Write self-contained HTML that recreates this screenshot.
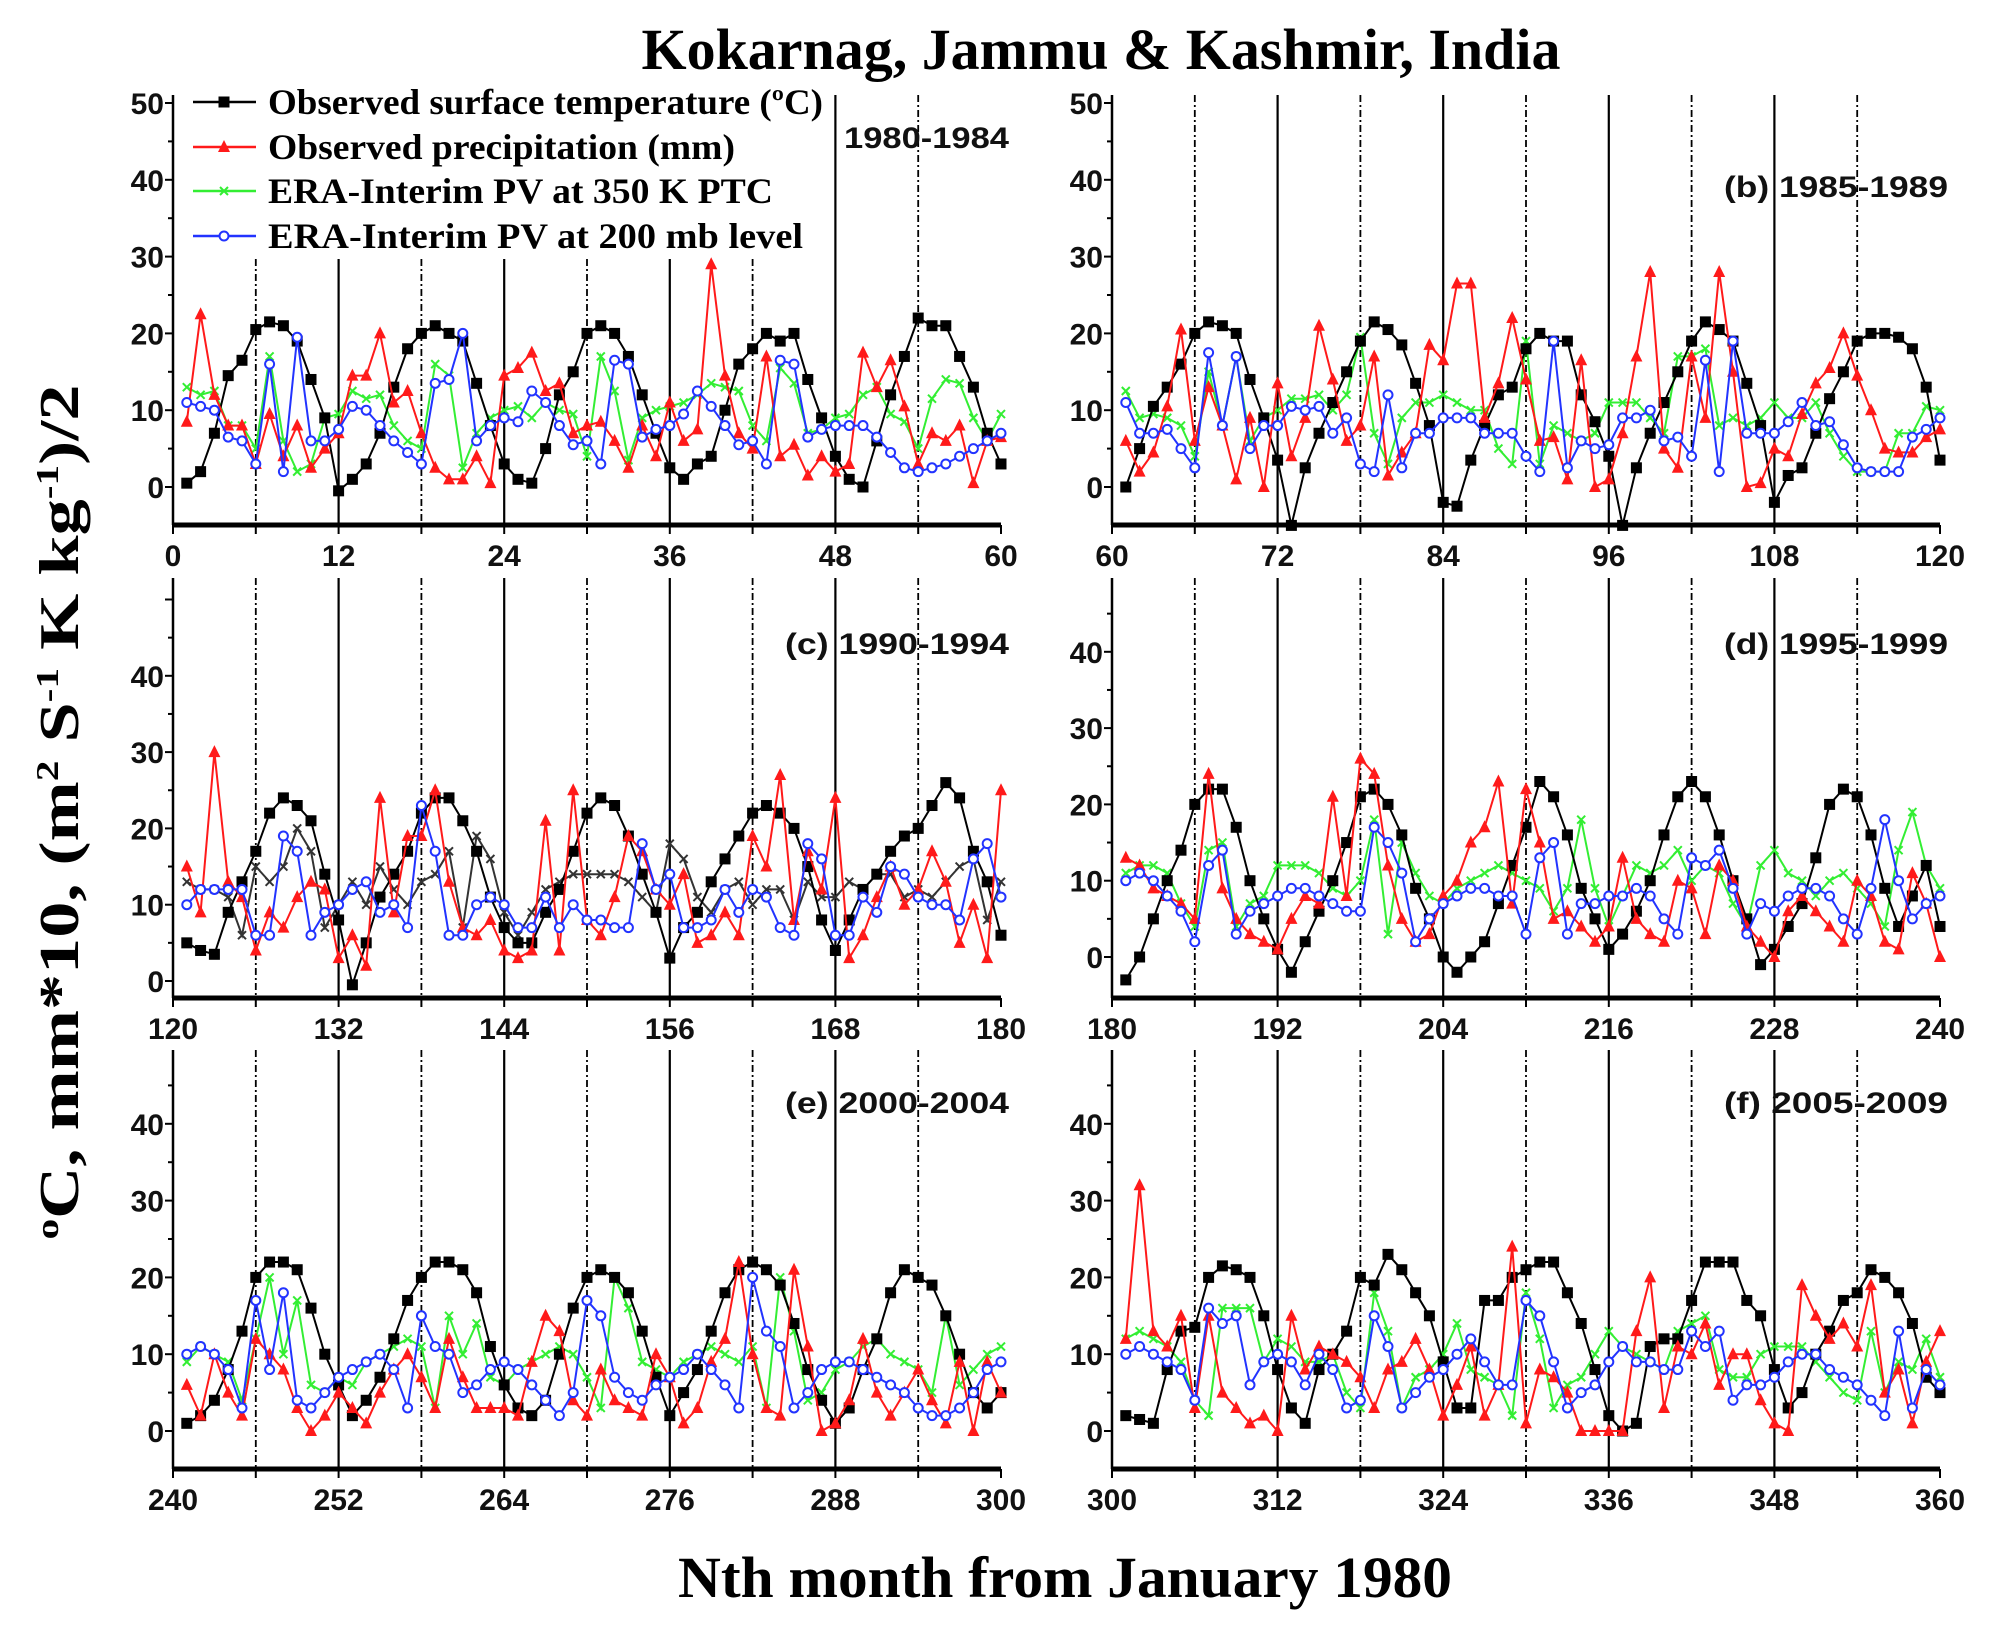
<!DOCTYPE html>
<html><head><meta charset="utf-8"><style>
html,body{margin:0;padding:0;background:#fff}
svg{display:block}
.tk{font-family:"Liberation Sans",sans-serif;font-weight:bold;font-size:30px;fill:#111}
.sf{font-family:"Liberation Serif",serif;font-weight:bold;fill:#000}
</style></head><body>
<svg id="chart" width="2003" height="1630" viewBox="0 0 2003 1630" xmlns="http://www.w3.org/2000/svg">
<text class="sf" x="1101" y="69" font-size="58" text-anchor="middle" textLength="919" lengthAdjust="spacingAndGlyphs">Kokarnag, Jammu &amp; Kashmir, India</text>
<text class="sf" x="1065" y="1597" font-size="58" text-anchor="middle" textLength="774" lengthAdjust="spacingAndGlyphs">Nth month from January 1980</text>
<text class="sf" transform="translate(78,812) rotate(-90)" font-size="56" text-anchor="middle" textLength="855" lengthAdjust="spacingAndGlyphs"><tspan font-size="32" dy="-20">o</tspan><tspan dy="20">C, mm*10, (m</tspan><tspan font-size="32" dy="-20">2</tspan><tspan dy="20"> S</tspan><tspan font-size="32" dy="-20">-1</tspan><tspan dy="20"> K kg</tspan><tspan font-size="32" dy="-20">-1</tspan><tspan dy="20">)/2</tspan></text>
<g id="panels"></g>
<g id="legend"></g>
</svg>
<script>
const panelLabels=["1980-1984","(b) 1985-1989","(c) 1990-1994","(d) 1995-1999","(e) 2000-2004","(f) 2005-2009"];
const panelStarts=[0,60,120,180,240,300];
const tempA=[0.5,2,7,14.5,16.5,20.5,21.5,21,19,14,9,-0.5,1,3,7,13,18,20,21,20,19,13.5,8,3,1,0.5,5,12,15,20,21,20,17,12,7,2.5,1,3,4,10,16,18,20,19,20,14,9,4,1,0,6,12,17,22,21,21,17,13,7,3];
const precA=[8.5,22.5,12,8,8,3,9.5,4,8,2.5,5,7,14.5,14.5,20,11,12.5,7,2.5,1,1,4,0.5,14.5,15.5,17.5,12.5,13.5,7,8,8.5,6,2.5,8,4,11,6,7.5,29,14.5,7,5,17,4,5.5,1.5,4,2,3,17.5,13,16.5,10.5,3,7,6,8,0.5,6,6.5];
const pv350A=[13,12,12.5,8,8,5,17,6,2,3,9,9.5,12.5,11.5,12,8,6,5,16,14.5,2.5,7,9,10,10.5,9,11,10,9.5,4,17,12.5,3.5,9,10,10.5,11,12,13.5,13,12.5,8,6,15.5,13.5,7,7.5,9,9.5,12,13,9.5,8.5,5,11.5,14,13.5,9,6,9.5];
const pv200A=[11,10.5,10,6.5,6,3,16,2,19.5,6,6,7.5,10.5,10,8,6,4.5,3,13.5,14,20,6,8,9,8.5,12.5,11,8,5.5,6,3,16.5,16,6.5,7.5,8,9.5,12.5,10.5,8,5.5,6,3,16.5,16,6.5,7.5,8,8,8,6.5,4.5,2.5,2,2.5,3,4,5,6,7];
const tempB=[0,5,10.5,13,16,20,21.5,21,20,14,9,3.5,-5,2.5,7,11,15,19,21.5,20.5,18.5,13.5,8,-2,-2.5,3.5,8,12,13,18,20,19,19,12,8.5,4,-5,2.5,7,11,15,19,21.5,20.5,19,13.5,8,-2,1.5,2.5,7,11.5,15,19,20,20,19.5,18,13,3.5];
const precB=[6,2,4.5,10.5,20.5,6,13,8,1,9,0,13.5,4,9,21,14,6,8,17,1.5,4.5,7,18.5,16.5,26.5,26.5,9,13.5,22,14,6,6.5,1,16.5,0,1,7,17,28,5,2.5,17,9,28,15,0,0.5,5,4,9.5,13.5,15.5,20,14.5,10,5,4.5,4.5,6.5,7.5];
const pv350B=[12.5,9,9.5,9,8,4,15,8,17,6,9,10,11.5,11.5,12,10,12,19.5,7,3,9,11,11,12,11,10,10,5,3,19,3,8,7,6,7,11,11,11,9,7,17,17,18,8,9,8,9,11,9,9,11,7,4,2,2,2,7,7,10.5,10];
const pv200B=[11,7,7,7.5,5,2.5,17.5,8,17,5,8,8,10.5,10,10.5,7,9,3,2,12,2.5,7,7,9,9,9,7,7,7,4,2,19,2.5,6,5,5.5,9,9,10,6,6.5,4,16.5,2,19,7,7,7,8.5,11,8,8.5,5.5,2.5,2,2,2,6.5,7.5,9];
const tempC=[5,4,3.5,9,13,17,22,24,23,21,14,8,-0.5,5,11,14,17,22,24,24,21,17,11,7,5,5,9,12,17,22,24,23,19,14,9,3,7,9,13,16,19,22,23,22,20,15,8,4,8,12,14,17,19,20,23,26,24,17,13,6];
const precC=[15,9,30,13,11,4,9,7,11,13,12,3,6,2,24,9,19,19,25,13,7,6,8,4,3,4,21,4,25,8,6,11,19,17,12,10,14,5,6,9,6,19,15,27,8,17,12,24,3,6,11,15,10,12,17,13,5,10,3,25];
const pv350C=[13,12,12,11,6,15,13,15,20,17,7,10,13,10,15,12,10,13,14,17,7,19,16,9,6,9,12,13,14,14,14,14,13,11,9,18,16,11,9,12,13,10,12,12,8,13,11,11,13,12,14,14,11,12,11,13,15,16,8,13];
const pv200C=[10,12,12,12,12,6,6,19,17,6,9,10,12,13,9,10,7,23,17,6,6,10,11,10,7,7,11,7,10,8,8,7,7,18,12,14,7,7,8,12,9,12,11,7,6,18,16,6,6,11,9,15,14,11,10,10,8,16,18,11];
const tempD=[-3,0,5,10,14,20,22,22,17,10,5,1,-2,2,6,10,15,21,22,20,16,9,5,0,-2,0,2,7,12,17,23,21,16,9,5,1,3,6,10,16,21,23,21,16,10,5,-1,1,4,7,13,20,22,21,16,9,4,8,12,4];
const precD=[13,12,9,8,7,5,24,9,5,3,2,1,5,8,7,21,8,26,24,12,5,2,3,8,10,15,17,23,7,22,15,5,6,4,2,4,13,5,3,2,10,9,3,12,10,4,2,0,6,8,6,4,2,10,8,2,1,11,7,0];
const pv350D=[11,12,12,11,7,4,14,15,4,7,8,12,12,12,11,9,8,10,18,3,15,11,8,7,9,10,11,12,11,10,9,6,9,18,9,4,8,12,11,12,14,10,12,11,7,4,12,14,11,10,8,10,11,9,7,4,14,19,12,9];
const pv200D=[10,11,10,8,6,2,12,14,3,6,7,8,9,9,8,7,6,6,17,15,11,2,5,7,8,9,9,8,8,3,13,15,3,7,7,8,8,9,8,5,3,13,12,14,9,3,7,6,8,9,9,8,5,3,9,18,10,5,7,8];
const tempE=[1,2,4,8,13,20,22,22,21,16,10,6,2,4,7,12,17,20,22,22,21,18,11,6,3,2,4,10,16,20,21,20,18,13,7,2,5,8,13,18,21,22,21,19,14,8,4,1,3,8,12,18,21,20,19,15,10,5,3,5];
const precE=[6,2,10,5,2,12,10,8,3,0,2,5,3,1,5,8,10,7,3,12,7,3,3,3,2,9,15,13,4,2,8,4,3,2,10,7,1,3,9,12,22,10,3,2,21,11,0,1,4,12,5,2,5,8,4,1,9,0,9,5];
const pv350E=[9,11,10,9,4,12,20,10,17,6,5,7,6,9,10,11,12,11,3,15,10,14,7,6,8,9,10,11,10,7,3,20,16,9,8,7,9,10,11,10,9,11,3,20,13,4,5,8,9,11,12,10,9,8,5,15,6,8,10,11];
const pv200E=[10,11,10,8,3,17,8,18,4,3,5,7,8,9,10,8,3,15,11,10,5,6,8,9,8,6,4,2,5,17,15,7,5,4,6,7,8,10,8,6,3,20,13,11,3,5,8,9,9,8,7,6,5,3,2,2,3,5,8,9];
const tempF=[2,1.5,1,8,13,13.5,20,21.5,21,20,15,8,3,1,8,10,13,20,19,23,21,18,15,9,3,3,17,17,20,21,22,22,18,14,8,2,0,1,11,12,12,17,22,22,22,17,15,8,3,5,10,13,17,18,21,20,18,14,7,5];
const precF=[12,32,13,11,15,3,15,5,3,1,2,0,15,8,11,10,9,7,3,8,9,12,8,2,6,11,2,6,24,1,8,7,5,0,0,0,0,13,20,3,11,10,14,6,10,10,4,1,0,19,15,12,14,11,19,5,8,1,9,13];
const pv350F=[12,13,12,11,9,4,2,16,16,16,9,12,11,9,9,10,5,3,18,13,3,7,8,10,14,8,7,6,2,18,12,3,6,7,10,13,11,10,9,8,13,14,15,8,7,7,10,11,11,11,9,7,5,4,13,5,9,8,12,7];
const pv200F=[10,11,10,9,8,4,16,14,15,6,9,10,9,6,10,8,3,4,15,11,3,5,7,8,10,12,9,6,6,17,15,9,3,5,6,9,11,9,9,8,8,13,11,13,4,6,6,7,9,10,10,8,7,6,4,2,13,3,8,6];
const yTickLabels=[0,10,20,30,40,50];
const legendLabels=["Observed surface temperature (ºC)","Observed precipitation (mm)","ERA-Interim PV at 350  K PTC","ERA-Interim PV at 200  mb level"];

const temps=[tempA,tempB,tempC,tempD,tempE,tempF];
const precs=[precA,precB,precC,precD,precE,precF];
const pv350s=[pv350A,pv350B,pv350C,pv350D,pv350E,pv350F];
const pv200s=[pv200A,pv200B,pv200C,pv200D,pv200E,pv200F];

const NS="http://www.w3.org/2000/svg";
function mk(tag,attrs,parent){const e=document.createElementNS(NS,tag);for(const k in attrs)e.setAttribute(k,attrs[k]);parent.appendChild(e);return e;}
const geo=[
 {l:173,r:1001,y0:487,u:7.68,ax:525,top:95,lab:true},
 {l:1112,r:1940,y0:487,u:7.68,ax:525,top:95,lab:true},
 {l:173,r:1001,y0:981,u:7.63,ax:998,top:578,lab:false},
 {l:1112,r:1940,y0:957,u:7.63,ax:998,top:578,lab:false},
 {l:173,r:1001,y0:1431,u:7.68,ax:1469,top:1050,lab:false},
 {l:1112,r:1940,y0:1431,u:7.68,ax:1469,top:1050,lab:false}
];
const labelY=[148,197,654,654,1113,1113];
const labelLen=[165,224,224,224,224,224];
const root=document.getElementById('panels');
for(let p=0;p<6;p++){
 const g=geo[p], s0=panelStarts[p];
 const X=v=>g.l+(v-s0)*(g.r-g.l)/60;
 const Y=v=>g.y0-v*g.u;
 const pg=mk('g',{},root);
 
 
 for(let m=6;m<60;m+=6){
  const solid=(m%12===0);
  let top=g.top;
  if(p===0&&m<=42) top=259;
  const ln=mk('line',{x1:X(s0+m),x2:X(s0+m),y1:top,y2:g.ax,stroke:'#000','stroke-width':solid?2.2:1.8,'stroke-dasharray':solid?'none':'7,3,2,3'},pg);
  
  
 }
 const ya=mk('line',{x1:g.l,x2:g.l,y1:g.top,y2:g.ax,stroke:'#000','stroke-width':2.5},pg);
 
 
 const xa=mk('line',{x1:g.l,x2:g.r,y1:g.ax,y2:g.ax,stroke:'#000','stroke-width':5},pg);
 
 
 for(let v=-5;v<=50;v+=5){
  const py=Y(v); if(py<g.top-2||py>g.ax-3) continue;
  mk('line',{x1:g.l-(v%10===0?8:5),x2:g.l,y1:py,y2:py,stroke:'#000','stroke-width':2},pg);
 }
 yTickLabels.forEach(v=>{
  if(!g.lab&&v===50) return;
  const t=mk('text',{x:g.l-9,y:Y(v)+11,'text-anchor':'end',class:'tk'},pg);
  
  
  t.textContent=v;
 });
 for(let m=0;m<=60;m+=6){
  mk('line',{x1:X(s0+m),x2:X(s0+m),y1:g.ax,y2:g.ax+9,stroke:'#000','stroke-width':2},pg);
  if(m%12===0){
   const t=mk('text',{x:X(s0+m),y:g.ax+41,'text-anchor':'middle',class:'tk'},pg);
   
   
   t.textContent=s0+m;
  }
 }
 const lt=mk('text',{x:g.r+8,y:labelY[p],'text-anchor':'end',class:'tk','font-size':33,textLength:labelLen[p],lengthAdjust:'spacingAndGlyphs'},pg);
 
 
 lt.textContent=panelLabels[p];
 const ser=[
  {d:temps[p],c:'#000',m:'sq',n:'temperature-series'},
  {d:precs[p],c:'#ff1a1a',m:'tri',n:'precipitation-series'},
  {d:pv350s[p],c:(p===2?'#333':'#33ee33'),m:'x',n:'pv350-series'},
  {d:pv200s[p],c:'#2233ff',m:'o',n:'pv200-series'}
 ];
 const order=[2,0,1,3];
 order.forEach(si=>{
  const S=ser[si];
  const sg=mk('g',{},pg);
  
  
  const pts=S.d.map((v,i)=>[X(s0+1+i),Y(v)]);
  mk('polyline',{points:pts.map(q=>q[0].toFixed(1)+','+q[1].toFixed(1)).join(' '),fill:'none',stroke:S.c,'stroke-width':2},sg);
  pts.forEach(q=>{
   let e;
   if(S.m==='sq') e=mk('rect',{x:q[0]-5.5,y:q[1]-5.5,width:11,height:11,fill:S.c},sg);
   else if(S.m==='tri') e=mk('polygon',{points:`${q[0]},${q[1]-7} ${q[0]-6},${q[1]+5} ${q[0]+6},${q[1]+5}`,fill:S.c},sg);
   else if(S.m==='x') e=mk('path',{d:`M${q[0]-4},${q[1]-4}L${q[0]+4},${q[1]+4}M${q[0]+4},${q[1]-4}L${q[0]-4},${q[1]+4}`,stroke:S.c,'stroke-width':2},sg);
   else e=mk('circle',{cx:q[0],cy:q[1],r:4.5,fill:'#fff',stroke:S.c,'stroke-width':2},sg);
   
   
  });
 });
}
const lg=document.getElementById('legend');
mk('rect',{x:180,y:82,width:650,height:172,fill:'#fff'},lg);
const lc=['#000','#ff1a1a','#33ee33','#2233ff'];
const ly=[102,147,191,236];
const lw=[555,467,505,535];
legendLabels.forEach((txt,i)=>{
 const e=mk('g',{},lg);
 
 
 mk('line',{x1:193,x2:256,y1:ly[i],y2:ly[i],stroke:lc[i],'stroke-width':2.5},e);
 const cx=224,cy=ly[i];
 if(i===0) mk('rect',{x:cx-5.5,y:cy-5.5,width:11,height:11,fill:lc[i]},e);
 if(i===1) mk('polygon',{points:`${cx},${cy-7} ${cx-6},${cy+5} ${cx+6},${cy+5}`,fill:lc[i]},e);
 if(i===2) mk('path',{d:`M${cx-4},${cy-4}L${cx+4},${cy+4}M${cx+4},${cy-4}L${cx-4},${cy+4}`,stroke:lc[i],'stroke-width':2},e);
 if(i===3) mk('circle',{cx:cx,cy:cy,r:4.5,fill:'#fff',stroke:lc[i],'stroke-width':2},e);
 const t=mk('text',{x:268,y:ly[i]+12,class:'sf','font-size':36,textLength:lw[i],lengthAdjust:'spacingAndGlyphs'},e);
 t.textContent=txt;
});
</script>
</body></html>
